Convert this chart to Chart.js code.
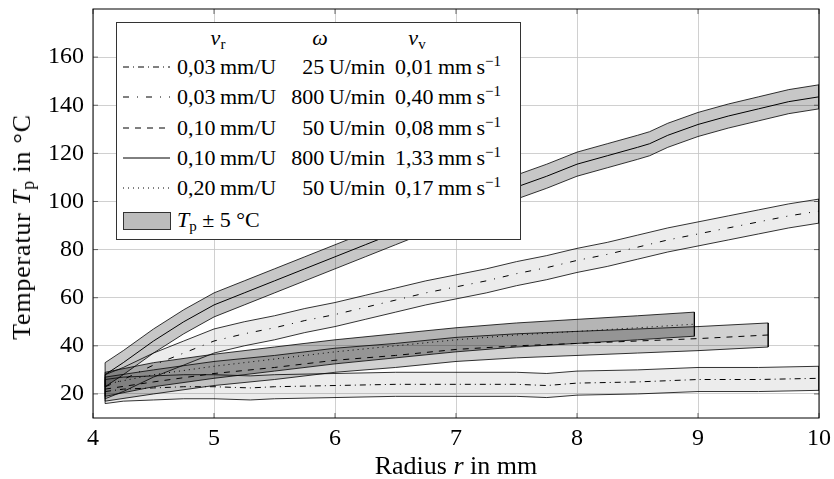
<!DOCTYPE html>
<html>
<head>
<meta charset="utf-8">
<script src="https://cdn.jsdelivr.net/npm/chart.js@4.4.1/dist/chart.umd.min.js"></script>
<style>
  body { margin: 0; background: #fff; }
  #wrap { position: relative; width: 834px; height: 479px; font-family: "Liberation Serif", serif; color: #000; }
  #chart { position: absolute; left: 0; top: 0; }
  .t { position: absolute; white-space: nowrap; font-size: 22px; line-height: 22px; }
  .t sub { font-size: 15px; vertical-align: -4px; line-height: 0; }
  .t sup { font-size: 15px; vertical-align: 8px; line-height: 0; }
  .ax { font-size: 26px; line-height: 26px; }
  .ax sub { font-size: 18px; }
  #legend { position: absolute; left: 116px; top: 22px; width: 403px; height: 216px; border: 1px solid #333; background: #fff; }
  .smp { position: absolute; left: 123px; }
</style>
</head>
<body>
<div id="wrap">
  <canvas id="chart" width="834" height="479"></canvas>

  <div class="t ax" style="left:22px;top:227px;letter-spacing:0.8px;transform:translate(-50%,-50%) rotate(-90deg);">Temperatur <i>T</i><sub>p</sub> in °C</div>
  <div class="t ax" style="left:456px;top:466px;transform:translate(-50%,-50%);">Radius <i>r</i> in mm</div>

  <div id="legend"></div>
  <div id="legendItems"></div>
</div>

<script>
// axis ticks
const xTicks = [4, 5, 6, 7, 8, 9, 10];
const yTicks = [20, 40, 60, 80, 100, 120, 140, 160];
const BAND = 5; // T_p +- 5 °C

// 0,03 mm/U, 25 U/min
const r1 = [4.1, 4.25, 4.5, 4.75, 5, 5.3, 5.5, 6, 6.5, 7, 7.5, 7.75, 8, 8.5, 9, 9.5, 10];
const t1 = [21, 22, 22.5, 23, 23, 22.5, 23, 23.5, 24, 24, 24, 23.5, 24.5, 25, 26, 26, 26.5];

// 0,03 mm/U, 800 U/min
const r2 = [4.1, 4.25, 4.5, 4.75, 5, 5.25, 5.5, 5.75, 6, 6.25, 6.5, 6.75, 7, 7.25, 7.5, 7.75, 8, 8.25, 8.5, 8.75, 9, 9.25, 9.5, 9.75, 10];
const t2 = [23, 26, 32, 37, 42, 45, 47.5, 50.5, 53, 56, 59, 62, 64.5, 67, 70, 72.5, 75.5, 78, 81, 84, 86.5, 89, 91.5, 94, 96];

// 0,10 mm/U, 50 U/min
const r3 = [4.1, 4.5, 5, 5.5, 6, 6.5, 7, 7.5, 8, 8.5, 9, 9.58];
const t3 = [22, 25, 28.5, 31, 34, 36, 38.5, 40, 41, 42, 43, 44.5];

// 0,10 mm/U, 800 U/min
const r4 = [4.1, 4.25, 4.5, 4.75, 5, 5.25, 5.5, 5.75, 6, 6.25, 6.5, 6.75, 7, 7.25, 7.5, 7.75, 8, 8.25, 8.5, 8.6, 8.75, 9, 9.25, 9.5, 9.75, 10];
const t4 = [28, 33, 42, 50, 57, 62, 67, 72, 77, 82, 87, 92, 97, 101.5, 106, 110.5, 115.5, 119, 122.5, 124, 127.5, 132, 135.5, 138.5, 141.5, 143.5];

// 0,20 mm/U, 50 U/min
const r5 = [4.1, 4.5, 5, 5.5, 6, 6.5, 7, 7.5, 8, 8.5, 8.97];
const t5 = [24, 28, 31.5, 34.5, 37.5, 40, 42.5, 44.5, 46, 47.5, 49];

const feed = ["0,03", "0,03", "0,10", "0,10", "0,20"];
const speed = ["25", "800", "50", "800", "50"];
const vel = ["0,01", "0,40", "0,08", "1,33", "0,17"];

const series = [
  { r: r1, t: t1, dash: [6, 4, 1, 4], fill: "rgba(0,0,0,0.075)" },
  { r: r2, t: t2, dash: [6, 8, 1, 8], fill: "rgba(0,0,0,0.075)" },
  { r: r3, t: t3, dash: [6, 6], fill: "rgba(0,0,0,0.18)" },
  { r: r4, t: t4, dash: [], fill: "rgba(0,0,0,0.22)" },
  { r: r5, t: t5, dash: [1, 4], fill: "rgba(0,0,0,0.29)" },
];

function shifted(r, t, d) {
  return r.map((x, i) => ({ x: x, y: t[i] + d }));
}

// closed outline: upper edge forward, lower edge back
function bandShape(r, t) {
  const up = shifted(r, t, BAND);
  const lo = shifted(r, t, -BAND).reverse();
  return up.concat(lo, [up[0]]);
}

const lines = series.map(s => ({
  data: shifted(s.r, s.t, 0),
  borderColor: "#000",
  borderWidth: 1,
  borderDash: s.dash,
  fill: false,
  pointRadius: 0,
}));
const bands = series.map(s => ({
  data: bandShape(s.r, s.t),
  borderColor: "#000",
  borderWidth: 0.8,
  backgroundColor: s.fill,
  fill: "shape",
  pointRadius: 0,
}));

// frame + inner tick marks like pgfplots
const framePlugin = {
  id: "frame",
  afterDatasetsDraw(chart) {
    const { ctx, chartArea: { left, right, top, bottom }, scales: { x, y } } = chart;
    ctx.save();
    ctx.strokeStyle = "#444";
    ctx.lineWidth = 0.8;
    ctx.beginPath();
    yTicks.forEach(v => {
      const py = y.getPixelForValue(v);
      ctx.moveTo(left, py); ctx.lineTo(left + 5, py);
      ctx.moveTo(right - 5, py); ctx.lineTo(right, py);
    });
    xTicks.forEach(v => {
      const px = x.getPixelForValue(v);
      ctx.moveTo(px, bottom); ctx.lineTo(px, bottom - 5);
      ctx.moveTo(px, top); ctx.lineTo(px, top + 5);
    });
    ctx.stroke();
    ctx.strokeStyle = "#000";
    ctx.lineWidth = 1;
    ctx.strokeRect(left, top, right - left, bottom - top);
    ctx.restore();
  },
};

const tickFont = { family: "Liberation Serif", size: 24 };

new Chart(document.getElementById("chart"), {
  type: "line",
  data: { datasets: lines.concat(bands) },
  options: {
    responsive: false,
    animation: false,
    layout: { padding: { left: 0, right: 15, top: 9, bottom: 0 } },
    plugins: { legend: { display: false }, tooltip: { enabled: false } },
    elements: { line: { tension: 0 } },
    scales: {
      x: {
        type: "linear",
        min: 4,
        max: 10,
        afterBuildTicks: s => { s.ticks = xTicks.map(v => ({ value: v })); },
        afterFit: s => { s.height = 61; s.paddingLeft = 0; s.paddingRight = 0; },
        ticks: { font: tickFont, color: "#000", padding: 6, maxRotation: 0 },
        grid: { color: "#c4c4c4", lineWidth: 0.8, drawTicks: false },
        border: { display: false },
      },
      y: {
        type: "linear",
        min: 10,
        max: 180,
        afterBuildTicks: s => { s.ticks = yTicks.map(v => ({ value: v })); },
        afterFit: s => { s.width = 93; s.paddingTop = 0; s.paddingBottom = 0; },
        ticks: { font: tickFont, color: "#000", padding: 9 },
        grid: { color: "#c4c4c4", lineWidth: 0.8, drawTicks: false },
        border: { display: false },
      },
    },
  },
  plugins: [framePlugin],
});

// legend table (text stays text)
const rowY = [67, 97, 127.5, 157.5, 188];
let html = "";
html += `<div class="t" style="left:218px;top:38px;transform:translate(-50%,-50%)"><i>ν</i><sub>r</sub></div>`;
html += `<div class="t" style="left:320px;top:38px;transform:translate(-50%,-50%)"><i>ω</i></div>`;
html += `<div class="t" style="left:417px;top:38px;transform:translate(-50%,-50%)"><i>ν</i><sub>v</sub></div>`;
series.forEach((s, i) => {
  const cy = rowY[i];
  const dash = s.dash.length ? s.dash.join(" ") : "none";
  html += `<svg class="smp" width="47" height="6" style="top:${cy - 3}px"><line x1="0" y1="3" x2="47" y2="3" stroke="#000" stroke-width="1" stroke-dasharray="${dash}"/></svg>`;
  html += `<div class="t" style="left:177px;top:${cy}px;transform:translateY(-50%)">${feed[i]}&thinsp;mm/U</div>`;
  html += `<div class="t" style="right:${834 - 385}px;top:${cy}px;transform:translateY(-50%)">${speed[i]}&thinsp;U/min</div>`;
  html += `<div class="t" style="left:395px;top:${cy}px;transform:translateY(-50%)">${vel[i]}&thinsp;mm&thinsp;s<sup>−1</sup></div>`;
});
html += `<div style="position:absolute;left:123px;top:212px;width:46px;height:16px;background:#bdbdbd;border:1px solid #333"></div>`;
html += `<div class="t" style="left:177px;top:220px;transform:translateY(-50%)"><i>T</i><sub>p</sub> ± 5 °C</div>`;
document.getElementById("legendItems").innerHTML = html;
</script>
</body>
</html>
